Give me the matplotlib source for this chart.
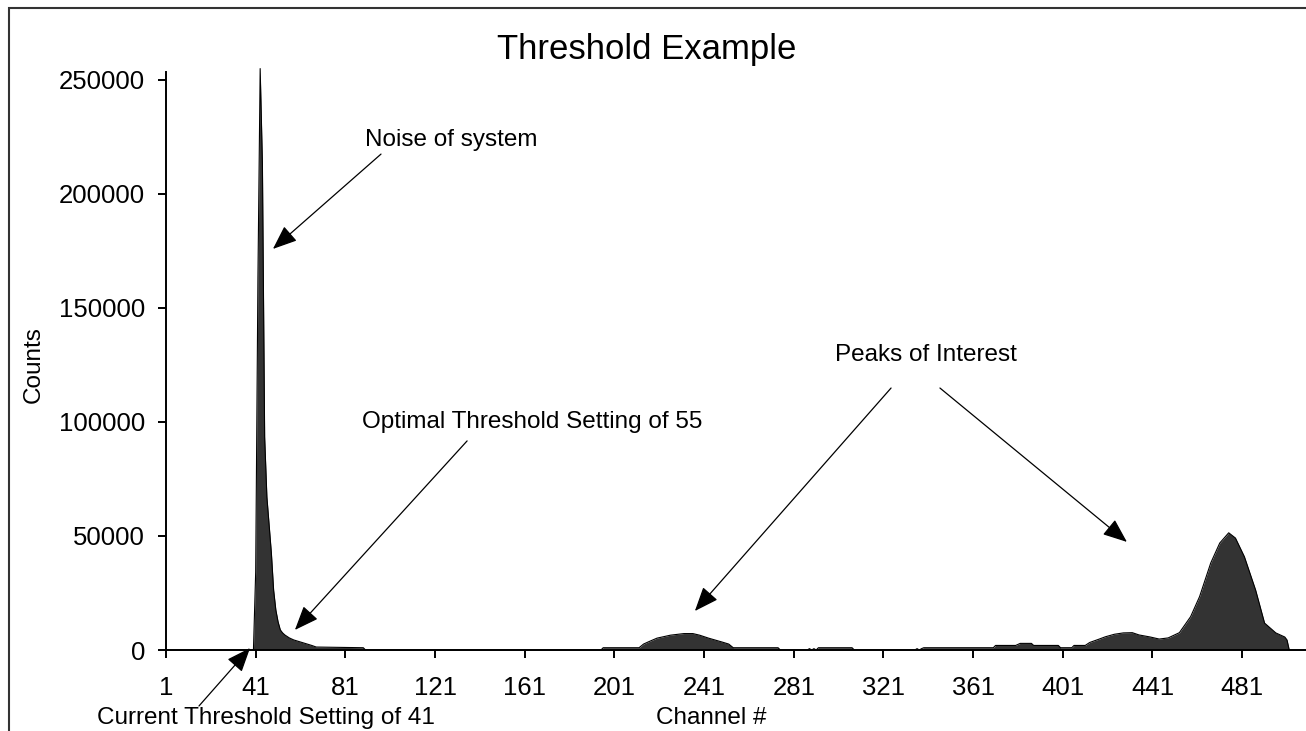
import matplotlib
matplotlib.use("Agg")
import matplotlib.pyplot as plt
from matplotlib.patches import Rectangle

plt.rcParams['font.family'] = ['Liberation Sans', 'DejaVu Sans']

# ---- data ----
channels = [1, 40, 41, 42, 43, 44, 45, 46, 47, 48, 49, 50, 51, 52, 53, 54, 56, 58, 61, 64, 66, 68, 89, 90,
            195, 196, 212, 214, 216, 220, 226, 232, 236, 239, 243, 249, 252, 254, 274, 275,
            287, 288, 289, 290, 291, 292, 307, 308,
            335, 336, 337, 338, 339, 370, 371, 380, 382, 387, 388, 399, 400, 405, 406, 411,
            413, 417, 420, 424, 428, 432, 435, 440, 444, 448, 453, 458, 462, 467, 471, 475,
            478, 482, 487, 491, 496, 500, 501, 502, 512]
counts = [0, 0, 34200, 163000, 255000, 213600, 93400, 67100, 54800, 42500, 26300, 17500, 12300, 8800, 7500,
          6600, 5300, 4400, 3500, 2600, 2000, 1300, 1000, 0,
          0, 1000, 1000, 2600, 3500, 5200, 6500, 7200, 7200, 6500, 5200, 3500, 2600, 1000, 1000, 0,
          0, 600, 0, 600, 0, 1000, 1000, 0,
          0, 600, 0, 600, 1000, 1000, 2000, 2000, 2900, 2900, 2000, 2000, 1000, 1000, 2000, 2000,
          3300, 4700, 5800, 6900, 7500, 7600, 6600, 5700, 4800, 5300, 7600, 14600, 23400, 38200, 46900, 51400,
          49100, 40900, 26300, 11800, 7500, 5700, 4400, 0, 0]

x_ticks = [1, 41, 81, 121, 161, 201, 241, 281, 321, 361, 401, 441, 481]
y_ticks = [0, 50000, 100000, 150000, 200000, 250000]

title = "Threshold Example"
x_label = "Channel #"
y_label = "Counts"

W, H = 1306, 731
fig = plt.figure(figsize=(W / 100, H / 100), dpi=100)

# axes placement (pixel based)
x_left_px, x_right_px = 166, 166 + 511 * 2.242
y_bottom_px, y_top_px = 650, 72
ax = fig.add_axes([x_left_px / W, 1 - y_bottom_px / H,
                   (x_right_px - x_left_px) / W, (y_bottom_px - y_top_px) / H])
ax.set_xlim(1, 512)
ax.set_ylim(0, 253500)

ax.fill_between(channels, counts, 0, color='#333333', linewidth=0, clip_on=False, zorder=2)
ax.plot(channels, counts, color='black', lw=0.8, clip_on=False, zorder=3)

for s in ['top', 'right']:
    ax.spines[s].set_visible(False)
for s in ['left', 'bottom']:
    ax.spines[s].set_linewidth(1.4)
    ax.spines[s].set_zorder(4)

ax.set_xticks(x_ticks)
ax.set_xticklabels([str(t) for t in x_ticks])
ax.set_yticks(y_ticks)
ax.set_yticklabels([str(t) for t in y_ticks])
ax.tick_params(axis='x', direction='out', length=6, width=1.4, pad=13, labelsize=18.5)
ax.tick_params(axis='y', direction='out', length=6, width=1.4, pad=9, labelsize=18.5)

fs = 17.5
fig.text(647 / W, 1 - 50 / H, title, ha='center', va='center', fontsize=25)
fig.text(34 / W, 1 - 365 / H, y_label, rotation=90, ha='center', va='center', fontsize=fs)
fig.text(711 / W, 1 - 718 / H, x_label, ha='center', va='center', fontsize=fs)

# annotations
arrow_kw = dict(arrowstyle='-|>,head_length=1.25,head_width=0.5', color='black',
                lw=0.9, shrinkA=0, shrinkB=0, mutation_scale=12)

ax.text(89.8, 223700, "Noise of system", ha='left', va='center', fontsize=fs)
ax.annotate('', xy=(48.7, 175900), xytext=(96.9, 217500), arrowprops=arrow_kw, annotation_clip=False)

ax.text(88.4, 100000, "Optimal Threshold Setting of 55", ha='left', va='center', fontsize=fs)
ax.annotate('', xy=(58.5, 8800), xytext=(135.3, 91700), arrowprops=arrow_kw, annotation_clip=False)

ax.text(299.4, 129400, "Peaks of Interest", ha='left', va='center', fontsize=fs)
ax.annotate('', xy=(236.9, 17100), xytext=(324.4, 114900), arrowprops=arrow_kw, annotation_clip=False)
ax.annotate('', xy=(429.6, 47400), xytext=(346.2, 114900), arrowprops=arrow_kw, annotation_clip=False)

ax.text(-29.8, -29800, "Current Threshold Setting of 41", ha='left', va='center', fontsize=fs, clip_on=False)
ax.annotate('', xy=(38.5, 877), xytext=(15.7, -24560), arrowprops=arrow_kw, annotation_clip=False)

# outer chart frame
fig.add_artist(Rectangle((9 / W, -0.5), 2.0, 1.5 - 8 / H, transform=fig.transFigure,
                         fill=False, edgecolor='#333333', lw=1.5))

fig.savefig("out.png", dpi=100)
